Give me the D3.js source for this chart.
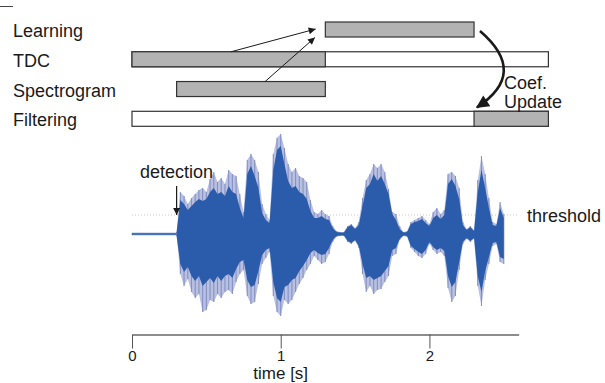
<!DOCTYPE html>
<html>
<head>
<meta charset="utf-8">
<script src="https://cdn.jsdelivr.net/npm/d3@7"></script>
<style>
  body { margin: 0; background: #fff; }
  svg { display: block; font-family: "Liberation Sans", Arial, sans-serif; }
</style>
</head>
<body>
<svg width="605" height="383"></svg>
<script>
// ---- data ----
var rows = ["Learning", "TDC", "Spectrogram", "Filtering"];
// outlined white frame per row (seconds), null = none
var frameStart = [null, 0, null, 0];
var frameEnd   = [null, 2.8, null, 2.8];
// grey active period per row (seconds)
var activeStart = [1.3, 0, 0.3, 2.3];
var activeEnd   = [2.3, 1.3, 1.3, 2.8];

var axisTicks = [0, 1, 2];
var threshold = 0.19;
var detectionTime = 0.3;
var noiseAmp = 0.008;

// waveform envelope, one sample every 25 ms from 0.3 s to 2.5 s
var waveStart = 0.3, waveStep = 0.025;
var outerTop = [0.02,0.42,0.38,0.30,0.36,0.40,0.44,0.46,0.42,0.55,0.62,0.52,0.56,0.50,0.64,0.60,0.58,0.40,0.22,0.74,
  0.80,0.74,0.62,0.30,0.20,0.14,0.80,0.96,1.00,0.86,0.70,0.62,0.66,0.58,0.56,0.52,0.34,0.22,0.20,0.24,
  0.20,0.18,0.08,0.03,0.02,0.02,0.08,0.10,0.06,0.12,0.36,0.54,0.60,0.70,0.66,0.70,0.62,0.45,0.22,0.20,
  0.08,0.02,0.03,0.12,0.14,0.16,0.18,0.14,0.10,0.22,0.26,0.20,0.24,0.60,0.62,0.58,0.46,0.12,0.05,0.08,
  0.04,0.54,0.78,0.60,0.36,0.12,0.10,0.32,0.20];
var outerBot = [-0.02,-0.40,-0.52,-0.45,-0.58,-0.64,-0.60,-0.78,-0.76,-0.66,-0.68,-0.60,-0.64,-0.58,-0.56,-0.60,-0.48,-0.40,-0.36,-0.62,
  -0.70,-0.68,-0.50,-0.30,-0.24,-0.18,-0.62,-0.78,-0.82,-0.66,-0.70,-0.66,-0.58,-0.50,-0.44,-0.36,-0.30,-0.22,-0.26,-0.30,
  -0.28,-0.20,-0.08,-0.03,-0.02,-0.02,-0.08,-0.10,-0.07,-0.14,-0.40,-0.58,-0.52,-0.60,-0.56,-0.55,-0.48,-0.42,-0.22,-0.20,
  -0.06,-0.02,-0.03,-0.14,-0.18,-0.22,-0.24,-0.20,-0.10,-0.16,-0.20,-0.18,-0.22,-0.54,-0.68,-0.62,-0.36,-0.10,-0.05,-0.08,
  -0.05,-0.52,-0.72,-0.46,-0.30,-0.12,-0.10,-0.28,-0.30];
var innerTop = [0.02,0.34,0.30,0.24,0.28,0.32,0.35,0.33,0.35,0.42,0.46,0.40,0.42,0.38,0.48,0.42,0.40,0.26,0.16,0.60,
  0.68,0.58,0.46,0.21,0.14,0.11,0.64,0.84,0.88,0.70,0.53,0.46,0.48,0.42,0.40,0.35,0.23,0.16,0.16,0.18,
  0.15,0.14,0.06,0.02,0.015,0.015,0.07,0.09,0.05,0.09,0.28,0.46,0.50,0.60,0.53,0.58,0.50,0.40,0.20,0.14,
  0.05,0.015,0.02,0.10,0.12,0.13,0.15,0.11,0.08,0.16,0.19,0.15,0.19,0.50,0.55,0.48,0.35,0.09,0.04,0.07,
  0.03,0.42,0.64,0.46,0.26,0.09,0.08,0.26,0.16];
var innerBot = [-0.02,-0.30,-0.38,-0.33,-0.42,-0.47,-0.42,-0.52,-0.48,-0.44,-0.49,-0.42,-0.47,-0.42,-0.40,-0.44,-0.35,-0.28,-0.26,-0.46,
  -0.53,-0.51,-0.37,-0.21,-0.16,-0.14,-0.48,-0.64,-0.68,-0.53,-0.51,-0.46,-0.44,-0.37,-0.32,-0.26,-0.19,-0.16,-0.19,-0.21,
  -0.20,-0.14,-0.06,-0.02,-0.015,-0.015,-0.07,-0.09,-0.06,-0.12,-0.30,-0.44,-0.42,-0.46,-0.44,-0.42,-0.37,-0.32,-0.16,-0.14,
  -0.05,-0.015,-0.02,-0.12,-0.15,-0.18,-0.20,-0.16,-0.08,-0.13,-0.16,-0.14,-0.17,-0.42,-0.53,-0.48,-0.28,-0.08,-0.04,-0.07,
  -0.04,-0.42,-0.58,-0.37,-0.23,-0.09,-0.08,-0.23,-0.25];

// ---- scales ----
var svg = d3.select("svg");
var ink = "#1a1a1a";
var x = d3.scaleLinear().domain([0, 2.8]).range([132, 548.4]);
var y = d3.scalePoint().domain(rows).range([29.5, 118.8]);
var barH = 15;
var amp = d3.scaleLinear().domain([-1, 1]).range([334, 134]);

var defs = svg.append("defs");
defs.append("marker").attr("id", "headS")
  .attr("viewBox", "0 0 10 10").attr("refX", 10).attr("refY", 5)
  .attr("markerWidth", 9).attr("markerHeight", 7).attr("markerUnits", "userSpaceOnUse")
  .attr("orient", "auto")
  .append("path").attr("d", "M0,0 L10,5 L0,10 Z").attr("fill", ink);
defs.append("marker").attr("id", "headL")
  .attr("viewBox", "0 0 10 10").attr("refX", 9).attr("refY", 5)
  .attr("markerWidth", 14).attr("markerHeight", 13).attr("markerUnits", "userSpaceOnUse")
  .attr("orient", "auto")
  .append("path").attr("d", "M0,0 L10,5 L0,10 Z").attr("fill", ink);

// small mark top-left
svg.append("line").attr("x1", 0).attr("x2", 13).attr("y1", 6.5).attr("y2", 6.5)
  .attr("stroke", "#444").attr("stroke-width", 1);

// ---- timing rows ----
var g = svg.append("g");
rows.forEach(function(r, i) {
  g.append("text").attr("x", 13).attr("y", y(r) + barH / 2)
    .attr("font-size", 18).attr("fill", ink).text(r);
  if (frameStart[i] !== null) {
    g.append("rect").attr("x", x(frameStart[i])).attr("y", y(r) - barH / 2)
      .attr("width", x(frameEnd[i]) - x(frameStart[i])).attr("height", barH)
      .attr("fill", "#fff").attr("stroke", "#333").attr("stroke-width", 1.2);
  }
  g.append("rect").attr("x", x(activeStart[i])).attr("y", y(r) - barH / 2)
    .attr("width", x(activeEnd[i]) - x(activeStart[i])).attr("height", barH)
    .attr("fill", "#b3b3b3").attr("stroke", "#333").attr("stroke-width", 1.2);
});

// arrows into Learning
g.append("line").attr("x1", x(0.666)).attr("y1", y("TDC") - barH / 2)
  .attr("x2", x(1.235)).attr("y2", y("Learning") - 0.5)
  .attr("stroke", ink).attr("stroke-width", 1).attr("marker-end", "url(#headS)");
g.append("line").attr("x1", x(0.895)).attr("y1", y("Spectrogram") - barH / 2)
  .attr("x2", x(1.23)).attr("y2", y("Learning") + 8)
  .attr("stroke", ink).attr("stroke-width", 1).attr("marker-end", "url(#headS)");

// coefficient update curve
var p0 = [x(2.34), y("Learning") + 1.5], p1 = [x(2.32), y("Filtering") - barH / 2 - 4];
g.append("path")
  .attr("d", "M" + p0 + " Q" + [x(2.67), (p0[1] + p1[1]) / 2 + 4] + " " + p1)
  .attr("fill", "none").attr("stroke", ink).attr("stroke-width", 2.6)
  .attr("marker-end", "url(#headL)");
g.append("text").attr("x", 504).attr("y", 89).attr("font-size", 18).attr("fill", ink).text("Coef.");
g.append("text").attr("x", 504).attr("y", 108).attr("font-size", 18).attr("fill", ink).text("Update");

// ---- waveform ----
var w = svg.append("g");
w.append("line").attr("x1", x(0)).attr("x2", x(2.59))
  .attr("y1", amp(threshold)).attr("y2", amp(threshold))
  .attr("stroke", "#c8c8c8").attr("stroke-width", 1).attr("stroke-dasharray", "1,2");

w.append("path")
  .attr("d", d3.area().x(function(d) { return x(d); })
    .y0(amp(-noiseAmp)).y1(amp(noiseAmp))([0, waveStart]))
  .attr("fill", "#2b5cab").attr("stroke", "#2b5cab").attr("stroke-width", 0.6);

var idx = d3.range(outerTop.length);
var tOf = function(i) { return waveStart + i * waveStep; };
// pale body of the outer envelope
w.append("path")
  .attr("d", d3.area().x(function(i) { return x(tOf(i)); })
    .y0(function(i) { return amp(outerBot[i]); })
    .y1(function(i) { return amp(outerTop[i]); })(idx))
  .attr("fill", "#b9c0e0");
// outer peaks as hairlines
w.selectAll(".spike").data(idx).enter().append("line").attr("class", "spike")
  .attr("x1", function(i) { return x(tOf(i)); }).attr("x2", function(i) { return x(tOf(i)); })
  .attr("y1", function(i) { return amp(outerBot[i]); })
  .attr("y2", function(i) { return amp(outerTop[i]); })
  .attr("stroke", "#8391c6").attr("stroke-width", 1.1);
// dense core
w.append("path")
  .attr("d", d3.area().x(function(i) { return x(tOf(i)); })
    .y0(function(i) { return amp(innerBot[i]); })
    .y1(function(i) { return amp(innerTop[i]); })(idx))
  .attr("fill", "#2b5cab");

w.append("text").attr("x", 527).attr("y", amp(threshold) + 7)
  .attr("font-size", 18).attr("fill", ink).text("threshold");
w.append("text").attr("x", 140).attr("y", 178)
  .attr("font-size", 18).attr("fill", ink).text("detection");
w.append("line").attr("x1", x(detectionTime)).attr("x2", x(detectionTime))
  .attr("y1", 186).attr("y2", amp(threshold))
  .attr("stroke", ink).attr("stroke-width", 1.2).attr("marker-end", "url(#headS)");

// ---- time axis ----
var xa = d3.scaleLinear().domain([0, 2.6]).range([x(0), x(2.6)]);
var ax = svg.append("g").attr("transform", "translate(0,334.5)")
  .call(d3.axisBottom(xa).tickValues(axisTicks).tickFormat(d3.format("d"))
    .tickSize(14).tickSizeOuter(0).tickPadding(1.5));
ax.select(".domain").attr("stroke", ink);
ax.selectAll(".tick line").attr("stroke", "#555");
ax.selectAll(".tick text").attr("font-size", 15).attr("fill", ink)
  .attr("font-family", "Liberation Sans, Arial, sans-serif");
svg.append("text").attr("x", x(1)).attr("y", 379.4).attr("text-anchor", "middle")
  .attr("font-size", 17).attr("fill", ink).text("time [s]");
</script>
</body>
</html>
